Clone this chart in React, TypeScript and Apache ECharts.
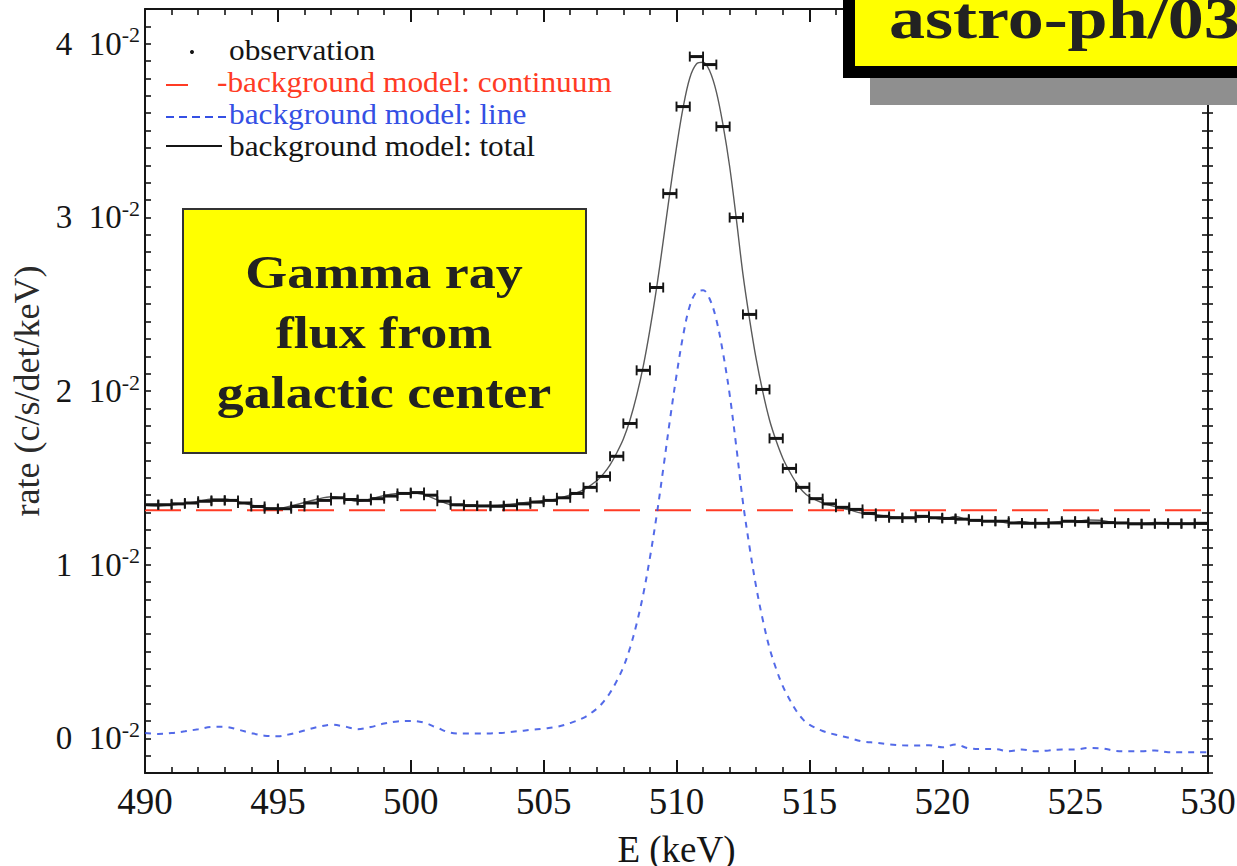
import { useEffect, useRef } from "react";
import * as echarts from "echarts";

const SERIF = '"Liberation Serif", "Times New Roman", serif';

// Energy axis (keV)
const energyMin = 490;
const energyMax = 530;
const energyStep = 5;

// Rate axis, in units of 1e-2 c/s/det/keV
const rateMin = -0.2;
const rateMax = 4.2;
const rateStep = 0.1;

// Observation: 0.5 keV bins
const binHalfWidth = 0.25;
const binCenters = [
  490.25, 490.75, 491.25, 491.75, 492.25, 492.75, 493.25, 493.75, 494.25, 494.75,
  495.25, 495.75, 496.25, 496.75, 497.25, 497.75, 498.25, 498.75, 499.25, 499.75,
  500.25, 500.75, 501.25, 501.75, 502.25, 502.75, 503.25, 503.75, 504.25, 504.75,
  505.25, 505.75, 506.25, 506.75, 507.25, 507.75, 508.25, 508.75, 509.25, 509.75,
  510.25, 510.75, 511.25, 511.75, 512.25, 512.75, 513.25, 513.75, 514.25, 514.75,
  515.25, 515.75, 516.25, 516.75, 517.25, 517.75, 518.25, 518.75, 519.25, 519.75,
  520.25, 520.75, 521.25, 521.75, 522.25, 522.75, 523.25, 523.75, 524.25, 524.75,
  525.25, 525.75, 526.25, 526.75, 527.25, 527.75, 528.25, 528.75, 529.25, 529.75,
];
const observedRate = [
  1.345, 1.345, 1.35, 1.355, 1.365, 1.37, 1.37, 1.355, 1.335, 1.322,
  1.322, 1.335, 1.355, 1.37, 1.385, 1.375, 1.37, 1.38, 1.395, 1.41,
  1.415, 1.4, 1.365, 1.345, 1.34, 1.338, 1.336, 1.34, 1.35, 1.36,
  1.37, 1.385, 1.41, 1.445, 1.508, 1.624, 1.813, 2.119, 2.596, 3.137,
  3.638, 3.926, 3.88, 3.523, 2.999, 2.441, 2.009, 1.727, 1.554, 1.445,
  1.38, 1.35, 1.33, 1.318, 1.295, 1.278, 1.27, 1.27, 1.278, 1.27,
  1.266, 1.262, 1.255, 1.25, 1.25, 1.24, 1.238, 1.238, 1.24, 1.25,
  1.248, 1.24, 1.242, 1.24, 1.235, 1.235, 1.238, 1.236, 1.236, 1.238,
];

// Background model components
const continuumRate = 1.313;
const modelEnergy = [
  490.0, 490.5, 491.0, 491.5, 492.0, 492.5, 493.0, 493.5, 494.0, 494.5,
  495.0, 495.5, 496.0, 496.5, 497.0, 497.5, 498.0, 498.5, 499.0, 499.5,
  500.0, 500.5, 501.0, 501.5, 502.0, 502.5, 503.0, 503.5, 504.0, 504.5,
  505.0, 505.5, 506.0, 506.5, 507.0, 507.25, 507.5, 507.75, 508.0, 508.25,
  508.5, 508.75, 509.0, 509.25, 509.5, 509.75, 510.0, 510.25, 510.5, 510.75,
  511.0, 511.25, 511.5, 511.75, 512.0, 512.25, 512.5, 512.75, 513.0, 513.25,
  513.5, 513.75, 514.0, 514.25, 514.5, 514.75, 515.0, 515.5, 516.0, 516.5,
  517.0, 517.5, 518.0, 518.5, 519.0, 519.5, 520.0, 520.5, 521.0, 521.5,
  522.0, 522.5, 523.0, 523.5, 524.0, 524.5, 525.0, 525.5, 526.0, 526.5,
  527.0, 527.5, 528.0, 528.5, 529.0, 529.5, 530.0,
];
const lineRate = [
  0.03, 0.025, 0.03, 0.04, 0.052, 0.065, 0.066, 0.05, 0.03, 0.015,
  0.012, 0.025, 0.045, 0.065, 0.078, 0.068, 0.052, 0.065, 0.085, 0.097,
  0.1, 0.09, 0.06, 0.032, 0.027, 0.027, 0.028, 0.032, 0.04, 0.048,
  0.056, 0.066, 0.088, 0.118, 0.17, 0.21, 0.262, 0.33, 0.41, 0.52,
  0.66, 0.83, 1.04, 1.28, 1.55, 1.83, 2.09, 2.32, 2.49, 2.57,
  2.58, 2.53, 2.41, 2.22, 1.98, 1.68, 1.36, 1.1, 0.87, 0.68,
  0.52, 0.4, 0.3, 0.225, 0.16, 0.11, 0.078, 0.042, 0.02, 0.002,
  -0.018, -0.026, -0.035, -0.04, -0.042, -0.04, -0.052, -0.036, -0.058, -0.062,
  -0.062, -0.075, -0.065, -0.075, -0.07, -0.065, -0.065, -0.056, -0.058, -0.072,
  -0.075, -0.075, -0.07, -0.08, -0.08, -0.08, -0.08,
];

const legendLabels = [
  "observation",
  "-background model: continuum",
  "background model: line",
  "background model: total",
];
const boxLines = ["Gamma ray", "flux from", "galactic center"];
const bannerText = "astro-ph/03";

const RED = "#ff3b24";
const BLUE = "#3550e4";
const INK = "#151515";

export default function App() {
  const ref = useRef<HTMLDivElement>(null);

  useEffect(() => {
    if (!ref.current) return;
    const chart = echarts.init(ref.current, null, { renderer: "svg" });

    const obsData = binCenters.map((e, i) => [e, observedRate[i]]);
    const lineData = modelEnergy.map((e, i) => [e, lineRate[i]]);
    const totalData = modelEnergy.map((e, i) => [e, continuumRate + lineRate[i]]);
    const contData = [
      [energyMin, continuumRate],
      [energyMax, continuumRate],
    ];

    const axisLine = { onZero: false, lineStyle: { color: INK, width: 2 } };

    const xCommon = {
      type: "value" as const,
      min: energyMin,
      max: energyMax,
      interval: energyStep,
      axisLine,
      axisTick: { inside: true, length: 13, lineStyle: { color: INK, width: 2 } },
      minorTick: { show: true, splitNumber: 5, length: 6, lineStyle: { color: INK, width: 1.6 } },
      splitLine: { show: false },
      minorSplitLine: { show: false },
    };
    const yCommon = {
      type: "value" as const,
      min: rateMin,
      max: rateMax,
      interval: rateStep,
      axisLine,
      splitLine: { show: false },
    };

    chart.setOption({
      animation: false,
      backgroundColor: "#ffffff",
      grid: {
        left: 145,
        right: 29,
        top: 9,
        bottom: 93,
        containLabel: false,
        outerBoundsMode: "none",
      },
      xAxis: [
        {
          ...xCommon,
          position: "bottom",
          axisLabel: { fontFamily: SERIF, fontSize: 37, color: INK, margin: 10 },
          name: "E (keV)",
          nameLocation: "middle",
          nameGap: 58,
          nameTextStyle: { fontFamily: SERIF, fontSize: 37, color: INK },
        },
        { ...xCommon, position: "top", axisLabel: { show: false } },
      ],
      yAxis: [
        {
          ...yCommon,
          position: "left",
          axisTick: { inside: true, length: 6, lineStyle: { color: INK, width: 1.6 } },
          axisLabel: {
            margin: 5,
            formatter: (v: number) => {
              const k = Math.round(v * 10);
              if (k % 10 !== 0) return "";
              return `{n|${k / 10}  10}{s|-2}`;
            },
            rich: {
              n: { fontFamily: SERIF, fontSize: 33, color: INK },
              s: { fontFamily: SERIF, fontSize: 22, color: INK, padding: [0, 0, 18, 0] },
            },
          },
          name: "rate (c/s/det/keV)",
          nameLocation: "middle",
          nameRotate: 90,
          nameGap: 94,
          nameTextStyle: { fontFamily: SERIF, fontSize: 36, color: "#2a2a2a" },
        },
        {
          ...yCommon,
          position: "right",
          axisTick: { inside: true, length: 6, lineStyle: { color: INK, width: 1.6 } },
          axisLabel: { show: false },
        },
        {
          ...yCommon,
          position: "right",
          axisLine: { show: false },
          axisTick: { inside: false, length: 5, lineStyle: { color: INK, width: 1.6 } },
          axisLabel: { show: false },
        },
      ],
      series: [
        {
          name: "background model: continuum",
          type: "line",
          data: contData,
          symbol: "none",
          lineStyle: { color: RED, width: 2, type: [36, 15] },
          z: 2,
        },
        {
          name: "background model: line",
          type: "line",
          data: lineData,
          symbol: "none",
          smooth: 0.35,
          lineStyle: { color: BLUE, width: 2, type: [6, 6], opacity: 0.85 },
          z: 2,
        },
        {
          name: "background model: total",
          type: "line",
          data: totalData,
          symbol: "none",
          smooth: 0.35,
          lineStyle: { color: "#5a5a5a", width: 1.4 },
          z: 3,
        },
        {
          name: "observation",
          type: "custom",
          data: obsData,
          z: 4,
          renderItem: (_params: any, api: any) => {
            const e = api.value(0) as number;
            const r = api.value(1) as number;
            const a = api.coord([e - binHalfWidth, r]);
            const b = api.coord([e + binHalfWidth, r]);
            const cap = 5;
            const capStyle = { stroke: INK, lineWidth: 1.9 };
            return {
              type: "group",
              children: [
                {
                  type: "line",
                  shape: { x1: a[0], y1: a[1], x2: b[0], y2: b[1] },
                  style: { stroke: INK, lineWidth: 3 },
                },
                {
                  type: "line",
                  shape: { x1: a[0], y1: a[1] - cap, x2: a[0], y2: a[1] + cap },
                  style: capStyle,
                },
                {
                  type: "line",
                  shape: { x1: b[0], y1: b[1] - cap, x2: b[0], y2: b[1] + cap },
                  style: capStyle,
                },
              ],
            };
          },
        },
      ],
      graphic: [
        // legend
        { type: "circle", shape: { cx: 192, cy: 52, r: 2 }, style: { fill: INK }, z: 10 },
        {
          type: "text", x: 229, y: 50, scaleX: 1.08, z: 10,
          style: { text: legendLabels[0], fontFamily: SERIF, fontSize: 29, fill: INK, verticalAlign: "middle" },
        },
        { type: "line", shape: { x1: 166, y1: 85, x2: 188, y2: 85 }, style: { stroke: RED, lineWidth: 2 }, z: 10 },
        {
          type: "text", x: 217, y: 82, scaleX: 1.08, z: 10,
          style: { text: legendLabels[1], fontFamily: SERIF, fontSize: 29, fill: RED, verticalAlign: "middle" },
        },
        {
          type: "line", shape: { x1: 166, y1: 117, x2: 228, y2: 117 }, z: 10,
          style: { stroke: BLUE, lineWidth: 2, lineDash: [8, 5] },
        },
        {
          type: "text", x: 229, y: 114, scaleX: 1.08, z: 10,
          style: { text: legendLabels[2], fontFamily: SERIF, fontSize: 29, fill: BLUE, verticalAlign: "middle" },
        },
        { type: "line", shape: { x1: 166, y1: 146, x2: 222, y2: 146 }, style: { stroke: INK, lineWidth: 2 }, z: 10 },
        {
          type: "text", x: 229, y: 146, scaleX: 1.08, z: 10,
          style: { text: legendLabels[3], fontFamily: SERIF, fontSize: 29, fill: INK, verticalAlign: "middle" },
        },
        // caption box
        {
          type: "rect", shape: { x: 183, y: 209, width: 403, height: 244 }, z: 10,
          style: { fill: "#ffff00", stroke: "#333333", lineWidth: 2 },
        },
        ...boxLines.map((t, i) => ({
          type: "text", x: 384, y: 272 + i * 60, scaleX: 1.15, z: 11,
          style: {
            text: t, fontFamily: SERIF, fontSize: 47, fontWeight: "bold", fill: "#222222",
            align: "center", verticalAlign: "middle",
          },
        })),
        // banner
        { type: "rect", shape: { x: 870, y: 60, width: 400, height: 45 }, style: { fill: "#8f8f8f" }, z: 12 },
        {
          type: "rect", shape: { x: 849, y: -20, width: 420, height: 92 }, z: 13,
          style: { fill: "#ffff00", stroke: "#000000", lineWidth: 12 },
        },
        {
          type: "text", x: 889, y: 18, scaleX: 1.2, z: 14,
          style: {
            text: bannerText, fontFamily: SERIF, fontSize: 60, fontWeight: "bold", fill: "#222222",
            verticalAlign: "middle",
          },
        },
      ],
    });

    return () => chart.dispose();
  }, []);

  return (
    <div
      ref={ref}
      style={{ position: "absolute", left: 0, top: 0, width: 1237, height: 866, background: "#fff" }}
    />
  );
}
